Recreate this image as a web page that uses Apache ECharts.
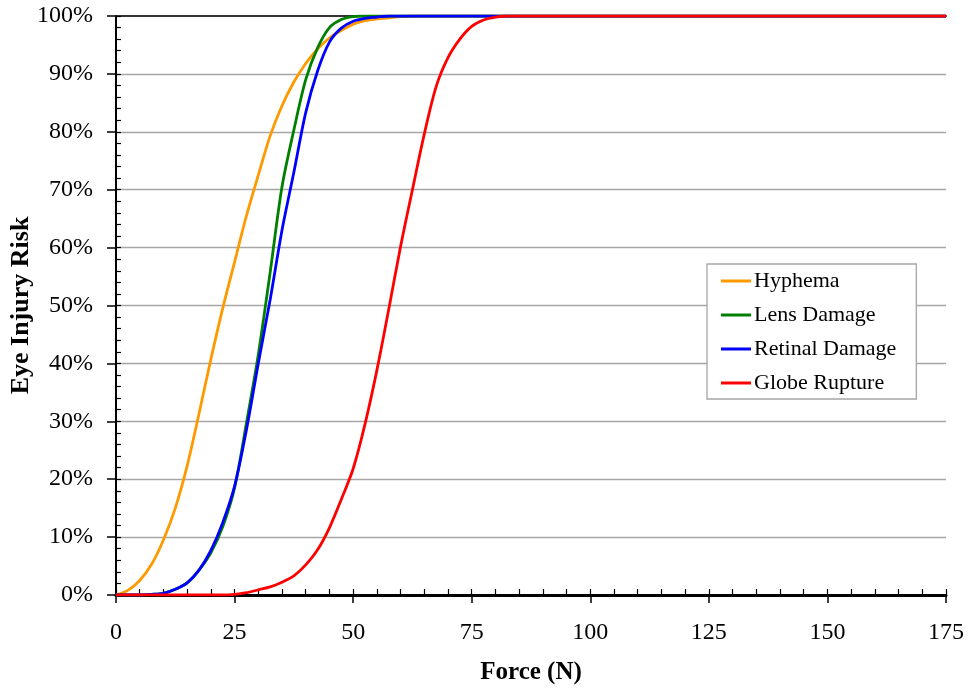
<!DOCTYPE html>
<html>
<head>
<meta charset="utf-8">
<script src="https://cdn.jsdelivr.net/npm/echarts@6/dist/echarts.min.js"></script>
<style>html,body{margin:0;padding:0;background:#fff}#c{width:969px;height:690px}</style>
</head>
<body>
<div id="c"></div>
<script>
// Force grid (N)
var forces = [0, 2.5, 5, 7.5, 10, 12.5, 15, 17.5, 20, 22.5, 25, 27.5, 30, 32.5, 35, 37.5, 40, 42.5, 45, 47.5, 50, 52.5, 55, 57.5, 60, 62.5, 65, 67.5, 70, 72.5, 75, 77.5, 80, 82.5, 85, 175];
// Risk (%)
var hyphema = [0, 0.8, 2.5, 5.3, 9.5, 15.0, 22.3, 31.3, 40.7, 49.5, 57.5, 65.5, 72.5, 79.3, 84.5, 88.6, 91.8, 94.3, 96.2, 97.5, 98.6, 99.2, 99.5, 99.7, 99.9, 100, 100, 100, 100, 100, 100, 100, 100, 100, 100, 100];
var lens = [0, 0, 0, 0.1, 0.3, 1.0, 2.1, 4.3, 7.3, 11.8, 18.5, 29.7, 41.5, 55.7, 70.5, 80.3, 89, 94.5, 98, 99.4, 99.9, 100, 100, 100, 100, 100, 100, 100, 100, 100, 100, 100, 100, 100, 100, 100];
var retinal = [0, 0, 0, 0.1, 0.3, 1.0, 2.1, 4.3, 7.7, 12.5, 18.8, 28.5, 40, 51, 63, 73, 83.3, 90.5, 95.5, 97.9, 99.1, 99.6, 99.8, 100, 100, 100, 100, 100, 100, 100, 100, 100, 100, 100, 100, 100];
var globe = [0, 0, 0, 0, 0, 0, 0, 0, 0, 0, 0.1, 0.4, 0.9, 1.4, 2.2, 3.3, 5.2, 7.8, 11.6, 16.5, 21.8, 29.5, 38.8, 49.3, 60.2, 70, 79.6, 87.8, 92.8, 96, 98.2, 99.3, 99.8, 100, 100, 100];
var seriesNames = ['Hyphema', 'Lens Damage', 'Retinal Damage', 'Globe Rupture'];
var seriesColors = ['#FF9900', '#008000', '#0000FF', '#FF0000'];
var xTicks = [0, 25, 50, 75, 100, 125, 150, 175];
var yTicks = [0, 10, 20, 30, 40, 50, 60, 70, 80, 90, 100];

var FONT = 'Liberation Serif';
function pairs(ys) { return forces.map(function (f, i) { return [f, ys[i]]; }); }
var allData = [hyphema, lens, retinal, globe];

var chart = echarts.init(document.getElementById('c'), null, {renderer: 'canvas'});
chart.setOption({
  animation: false,
  backgroundColor: '#fff',
  textStyle: {fontFamily: FONT},
  grid: {left: 116, right: 23, top: 16, bottom: 95, containLabel: false, outerBoundsMode: 'none'},
  legend: {
    orient: 'vertical', left: 707, top: 264,
    padding: [6, 20, 5, 14],
    backgroundColor: '#fff', borderColor: '#a6a6a6', borderWidth: 1.3,
    icon: 'rect', itemWidth: 30, itemHeight: 3, itemGap: 12,
    textStyle: {fontFamily: FONT, fontSize: 22, color: '#000', lineHeight: 22, padding: [0, 0, 0, -2]},
    data: seriesNames
  },
  xAxis: [{
    type: 'value', position: 'bottom', min: xTicks[0], max: xTicks[xTicks.length - 1], interval: 25,
    name: 'Force (N)', nameLocation: 'middle', nameGap: 65, nameMoveOverlap: false,
    nameTextStyle: {fontFamily: FONT, fontSize: 25, fontWeight: 'bold', color: '#000'},
    axisLine: {show: true, onZero: false, lineStyle: {color: '#000', width: 3}},
    axisTick: {show: true, inside: false, length: 8, lineStyle: {color: '#000', width: 1.5}},
    axisLabel: {fontFamily: FONT, fontSize: 24, color: '#000', margin: 26},
    splitLine: {show: false}
  }, {
    type: 'value', position: 'bottom', min: 0, max: 175, interval: 5,
    axisLine: {show: false, onZero: false}, axisLabel: {show: false}, splitLine: {show: false},
    axisTick: {show: true, inside: true, length: 6, lineStyle: {color: '#000', width: 1.2}}
  }, {
    type: 'value', position: 'top', min: 0, max: 175, interval: 25,
    axisLine: {show: true, onZero: false, lineStyle: {color: '#333', width: 2}},
    axisTick: {show: false}, axisLabel: {show: false}, splitLine: {show: false}
  }],
  yAxis: [{
    type: 'value', position: 'left', min: yTicks[0], max: yTicks[yTicks.length - 1], interval: 10,
    name: 'Eye Injury Risk', nameLocation: 'middle', nameGap: 82, nameMoveOverlap: false,
    nameTextStyle: {fontFamily: FONT, fontSize: 26, fontWeight: 'bold', color: '#000'},
    axisLine: {show: true, onZero: false, lineStyle: {color: '#000', width: 2}},
    axisTick: {show: true, inside: false, length: 9, lineStyle: {color: '#000', width: 1.5}},
    axisLabel: {fontFamily: FONT, fontSize: 24, color: '#000', margin: 23, formatter: '{value}%'},
    splitLine: {show: true, showMinLine: false, showMaxLine: false, lineStyle: {color: '#a6a6a6', width: 1.4}}
  }, {
    type: 'value', position: 'left', min: 0, max: 100, interval: 2,
    axisLine: {show: false, onZero: false}, axisLabel: {show: false}, splitLine: {show: false},
    axisTick: {show: true, inside: true, length: 5, lineStyle: {color: '#000', width: 1.2}}
  }],
  series: seriesNames.map(function (n, i) {
    return {
      name: n, type: 'line', xAxisIndex: 0, yAxisIndex: 0,
      data: pairs(allData[i]), showSymbol: false, smooth: 0.3,
      color: seriesColors[i],
      lineStyle: {color: seriesColors[i], width: 2.8},
      z: 3 + i
    };
  })
});
</script>
</body>
</html>
